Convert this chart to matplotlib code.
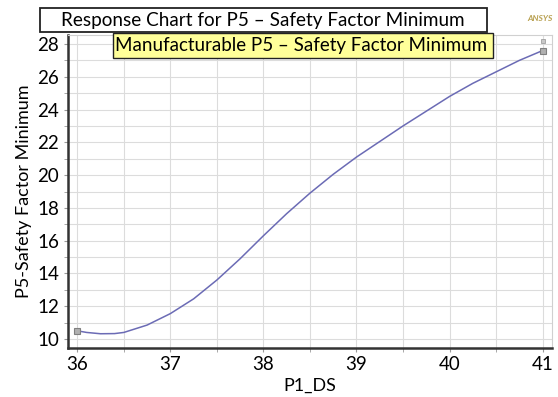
import matplotlib.pyplot as plt
from matplotlib.patches import Rectangle
from matplotlib.ticker import MultipleLocator

plt.rcParams["font.family"] = ["Lato", "DejaVu Sans"]

# response curve of P5 over P1_DS
p1_ds = [36.0, 36.1, 36.25, 36.4, 36.5, 36.75, 37.0, 37.25, 37.5, 37.75,
         38.0, 38.25, 38.5, 38.75, 39.0, 39.25, 39.5, 39.75, 40.0, 40.25,
         40.5, 40.75, 41.0]
sf_min = [10.5, 10.4, 10.32, 10.33, 10.4, 10.85, 11.55, 12.45, 13.6, 14.9,
          16.3, 17.65, 18.9, 20.05, 21.1, 22.05, 23.0, 23.9, 24.8, 25.6,
          26.3, 27.0, 27.6]
end_x = [p1_ds[0], p1_ds[-1]]
end_y = [sf_min[0], sf_min[-1]]
manuf_x = [41.0]
manuf_y = [28.2]

title = "Response Chart for P5 \u2013 Safety Factor Minimum"
series_label = "Manufacturable P5 \u2013 Safety Factor Minimum"

fig = plt.figure(figsize=(5.58, 3.97), dpi=100)
ax = fig.add_axes([0.1219, 0.1234, 0.8671, 0.7884])

ax.plot(p1_ds, sf_min, color="#6b6bb5", lw=1.1, zorder=3)
ax.plot(end_x, end_y, ls="none", marker="s", ms=4, mfc="#b0b0b0",
        mec="#808080", mew=0.8, zorder=4)
ax.plot(manuf_x, manuf_y, ls="none", marker="s", ms=3, mfc="#c8c8c8",
        mec="#a0a0a0", mew=0.6, zorder=4)

ax.set_xlim(35.9, 41.1)
ax.set_ylim(9.45, 28.55)
ax.xaxis.set_major_locator(MultipleLocator(1))
ax.xaxis.set_minor_locator(MultipleLocator(0.5))
ax.yaxis.set_major_locator(MultipleLocator(2))
ax.yaxis.set_minor_locator(MultipleLocator(1))
ax.grid(which="both", color="#dcdcdc", lw=0.8)
ax.set_axisbelow(True)

ax.tick_params(which="both", length=3, color="#9a9a9a", labelsize=13.5)
ax.tick_params(axis="x", pad=3)
for side in ("left", "bottom"):
    ax.spines[side].set_color("#333333")
    ax.spines[side].set_linewidth(1.8)
for side in ("top", "right"):
    ax.spines[side].set_color("#d0d0d0")
    ax.spines[side].set_linewidth(0.8)

ax.set_xlabel("P1_DS", fontsize=13, labelpad=3)
ax.set_ylabel("P5-Safety Factor Minimum", fontsize=13, labelpad=4)

# title box and the yellow series tag drawn in figure coordinates
fig.add_artist(Rectangle((0.0717, 0.9194), 0.8011, 0.0604, transform=fig.transFigure,
                         fc="white", ec="#222222", lw=1.3, zorder=5))
fig.text(0.471, 0.9496, title, fontsize=13.6, ha="center", va="center", zorder=6)
fig.add_artist(Rectangle((0.2025, 0.8539), 0.681, 0.063, transform=fig.transFigure,
                         fc="#ffff99", ec="#222222", lw=1.0, zorder=5))
fig.text(0.539, 0.8854, series_label, fontsize=13.5, ha="center", va="center",
         zorder=6)
fig.text(0.968, 0.953, "ANSYS", fontsize=6, style="italic", weight="bold",
         color="#b8a050", ha="center", va="center")

fig.savefig("out.png", dpi=100)
